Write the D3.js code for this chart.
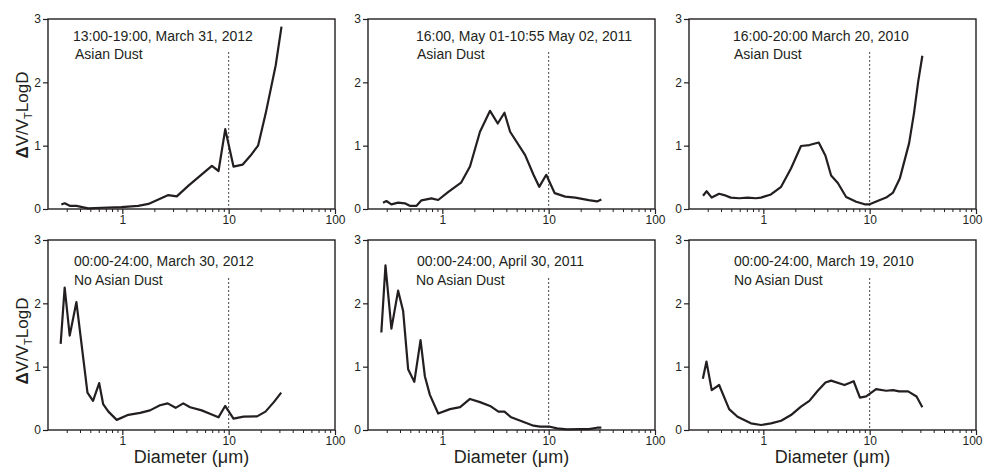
<!DOCTYPE html>
<html>
<head>
<meta charset="utf-8">
<script src="https://cdn.jsdelivr.net/npm/d3@7"></script>
<style>
  body { margin: 0; background: #fff; }
  svg { display: block; font-family: "Liberation Sans", Arial, sans-serif; }
</style>
</head>
<body>
<svg id="chart" width="984" height="469"></svg>
<script>
// size distributions, one pair of arrays per panel
const diam1 = [0.267, 0.287, 0.32, 0.37, 0.477, 0.637, 0.98, 1.41, 1.76, 2.71, 3.25, 4.19, 6.95, 8.03, 9.29, 11.1, 13.5, 16.0, 18.9, 22.3, 27.7, 31.4];
const vol1  = [0.07, 0.09, 0.05, 0.05, 0.01, 0.02, 0.03, 0.05, 0.08, 0.22, 0.20, 0.37, 0.68, 0.60, 1.26, 0.67, 0.70, 0.84, 1.00, 1.51, 2.27, 2.88];

const diam2 = [0.277, 0.298, 0.332, 0.384, 0.444, 0.494, 0.572, 0.637, 0.79, 0.914, 1.14, 1.50, 1.82, 2.26, 2.81, 3.32, 3.84, 4.34, 6.01, 7.2, 8.15, 9.49, 11.4, 14.3, 17.8, 23.8, 28.5, 31.3];
const vol2  = [0.10, 0.126, 0.074, 0.10, 0.09, 0.05, 0.05, 0.137, 0.168, 0.142, 0.27, 0.415, 0.67, 1.22, 1.55, 1.35, 1.52, 1.22, 0.85, 0.54, 0.35, 0.54, 0.25, 0.195, 0.18, 0.14, 0.12, 0.15];

const diam3 = [0.271, 0.293, 0.327, 0.384, 0.428, 0.494, 0.593, 0.711, 0.853, 0.95, 1.18, 1.47, 1.82, 2.26, 2.71, 3.32, 3.84, 4.34, 5.02, 6.01, 7.47, 8.97, 10.0, 12.0, 14.3, 16.6, 19.2, 23.5, 26.1, 28.6, 31.3];
const vol3  = [0.21, 0.28, 0.18, 0.24, 0.22, 0.18, 0.17, 0.18, 0.17, 0.18, 0.23, 0.35, 0.64, 0.995, 1.01, 1.05, 0.84, 0.53, 0.41, 0.19, 0.115, 0.074, 0.074, 0.13, 0.18, 0.26, 0.48, 1.04, 1.51, 2.01, 2.42];

const diam4 = [0.263, 0.287, 0.32, 0.37, 0.47, 0.53, 0.606, 0.66, 0.74, 0.886, 1.14, 1.47, 1.82, 2.26, 2.67, 3.17, 3.74, 4.34, 5.58, 6.84, 8.02, 9.27, 11.1, 13.8, 18.5, 22.2, 26.6, 31.2];
const vol4  = [1.36, 2.25, 1.49, 2.02, 0.59, 0.46, 0.74, 0.41, 0.29, 0.16, 0.24, 0.27, 0.31, 0.39, 0.42, 0.35, 0.42, 0.36, 0.31, 0.25, 0.20, 0.38, 0.18, 0.21, 0.215, 0.29, 0.44, 0.59];

const diam5 = [0.267, 0.292, 0.332, 0.384, 0.428, 0.477, 0.545, 0.624, 0.685, 0.764, 0.914, 1.18, 1.47, 1.82, 2.26, 2.81, 3.37, 3.84, 4.44, 5.58, 7.2, 8.3, 10.3, 12.0, 14.9, 19.2, 23.8, 28.5, 31.3];
const vol5  = [1.54, 2.60, 1.60, 2.20, 1.88, 0.96, 0.76, 1.42, 0.85, 0.555, 0.26, 0.33, 0.36, 0.49, 0.44, 0.38, 0.29, 0.29, 0.20, 0.137, 0.068, 0.052, 0.052, 0.026, 0.01, 0.015, 0.015, 0.036, 0.036];

const diam6 = [0.27, 0.292, 0.327, 0.384, 0.477, 0.572, 0.764, 0.95, 1.18, 1.47, 1.82, 2.26, 2.71, 3.25, 3.84, 4.34, 5.8, 7.07, 8.1, 9.27, 11.5, 14.3, 16.6, 18.9, 23.0, 27.6, 31.3];
const vol6  = [0.81, 1.08, 0.63, 0.71, 0.33, 0.21, 0.105, 0.079, 0.105, 0.146, 0.236, 0.37, 0.46, 0.62, 0.75, 0.78, 0.71, 0.77, 0.51, 0.53, 0.645, 0.62, 0.63, 0.61, 0.61, 0.53, 0.36];

const periods = [
  "13:00-19:00, March 31, 2012",
  "16:00, May 01-10:55 May 02, 2011",
  "16:00-20:00 March 20, 2010",
  "00:00-24:00, March 30, 2012",
  "00:00-24:00, April 30, 2011",
  "00:00-24:00, March 19, 2010"
];
const dustLabels = ["Asian Dust", "Asian Dust", "Asian Dust", "No Asian Dust", "No Asian Dust", "No Asian Dust"];

const xDomain = [0.2, 100];
const yTicks = [0, 1, 2, 3];
const majorTicks = [1, 10, 100];
const minorTicks = [0.3, 0.4, 0.5, 0.6, 0.7, 0.8, 0.9, 2, 3, 4, 5, 6, 7, 8, 9, 20, 30, 40, 50, 60, 70, 80, 90];
const cutSize = 10;

const series = [
  [diam1, vol1], [diam2, vol2], [diam3, vol3],
  [diam4, vol4], [diam5, vol5], [diam6, vol6]
];

// layout
const colX = [48, 368, 689];
const rowY = [19, 240];
const W = 287, H = 190;
const textOff = [[25, 27], [48, 49], [44, 45], [26, 26], [49, 48], [45, 45]];
const textBase = [[22, 40], [22, 40], [22, 40], [26, 45], [26, 45], [26, 45]];
const cutTop = [2.48, 2.48, 2.48, 2.4, 2.4, 2.4];

const ink = "#231f20";
const svg = d3.select("#chart");

series.forEach(([dd, vv], i) => {
  const col = i % 3, row = Math.floor(i / 3);
  const g = svg.append("g").attr("transform", `translate(${colX[col]},${rowY[row]})`);

  const x = d3.scaleLog().domain(xDomain).range([0, W]);
  const y = d3.scaleLinear().domain([0, 3]).range([H, 0]);

  // minor ticks
  g.append("g")
    .attr("transform", `translate(0,${H})`)
    .call(d3.axisBottom(x).tickValues(minorTicks).tickSize(3).tickSizeOuter(0).tickFormat(""))
    .call(a => a.select(".domain").remove())
    .call(a => a.selectAll("line").attr("stroke", ink).attr("stroke-width", 1));

  // major ticks
  const xMajor = g.append("g")
    .attr("transform", `translate(0,${H})`)
    .call(d3.axisBottom(x).tickValues(majorTicks).tickSize(5).tickPadding(1).tickSizeOuter(0).tickFormat(d3.format("d")))
    .call(a => a.select(".domain").remove())
    .call(a => a.selectAll("line").attr("stroke", ink).attr("stroke-width", 1.2))
    .call(a => a.selectAll("text").attr("fill", ink).style("font-size", "12px")
      .style("font-family", "'Liberation Sans', Arial, sans-serif"));
  if (col === 2) {
    // keep the last label inside the page
    xMajor.selectAll("text").filter(d => d === 100).attr("dx", -4);
  }

  g.append("g")
    .call(d3.axisLeft(y).tickValues(yTicks).tickSize(5).tickPadding(2).tickSizeOuter(0).tickFormat(d3.format("d")))
    .call(a => a.select(".domain").remove())
    .call(a => a.selectAll("line").attr("stroke", ink).attr("stroke-width", 1.2))
    .call(a => a.selectAll("text").attr("fill", ink).style("font-size", "12px")
      .style("font-family", "'Liberation Sans', Arial, sans-serif"));

  // frame
  g.append("rect")
    .attr("width", W).attr("height", H)
    .attr("fill", "none").attr("stroke", ink).attr("stroke-width", 1.4);

  // 10 um cut
  g.append("line")
    .attr("x1", x(cutSize)).attr("x2", x(cutSize))
    .attr("y1", y(cutTop[i])).attr("y2", y(0))
    .attr("stroke", "#444").attr("stroke-width", 1)
    .attr("stroke-dasharray", "2,2");

  const pts = dd.map((d, k) => [d, vv[k]]);
  g.append("path")
    .datum(pts)
    .attr("fill", "none")
    .attr("stroke", ink)
    .attr("stroke-width", 2.2)
    .attr("stroke-linejoin", "round")
    .attr("d", d3.line().x(d => x(d[0])).y(d => y(d[1])));

  g.append("text")
    .attr("x", textOff[i][0]).attr("y", textBase[i][0])
    .attr("fill", ink).style("font-size", "14px")
    .text(periods[i]);
  g.append("text")
    .attr("x", textOff[i][1]).attr("y", textBase[i][1])
    .attr("fill", ink).style("font-size", "14px")
    .text(dustLabels[i]);

  if (col === 0) {
    const lab = svg.append("text")
      .attr("transform", `translate(28,${row === 0 ? 115 : 341}) rotate(-90)`)
      .attr("text-anchor", "middle")
      .attr("fill", ink)
      .style("font-size", "17px");
    lab.append("tspan").style("font-weight", "bold").text("Δ");
    lab.append("tspan").text("V/V");
    lab.append("tspan").attr("dy", 4).style("font-size", "11px").text("T");
    lab.append("tspan").attr("dy", -4).text("LogD");
  }
  if (row === 1) {
    svg.append("text")
      .attr("x", colX[col] + W / 2).attr("y", 463)
      .attr("text-anchor", "middle")
      .attr("fill", ink)
      .style("font-size", "18px")
      .text("Diameter (μm)");
  }
});
</script>
</body>
</html>
